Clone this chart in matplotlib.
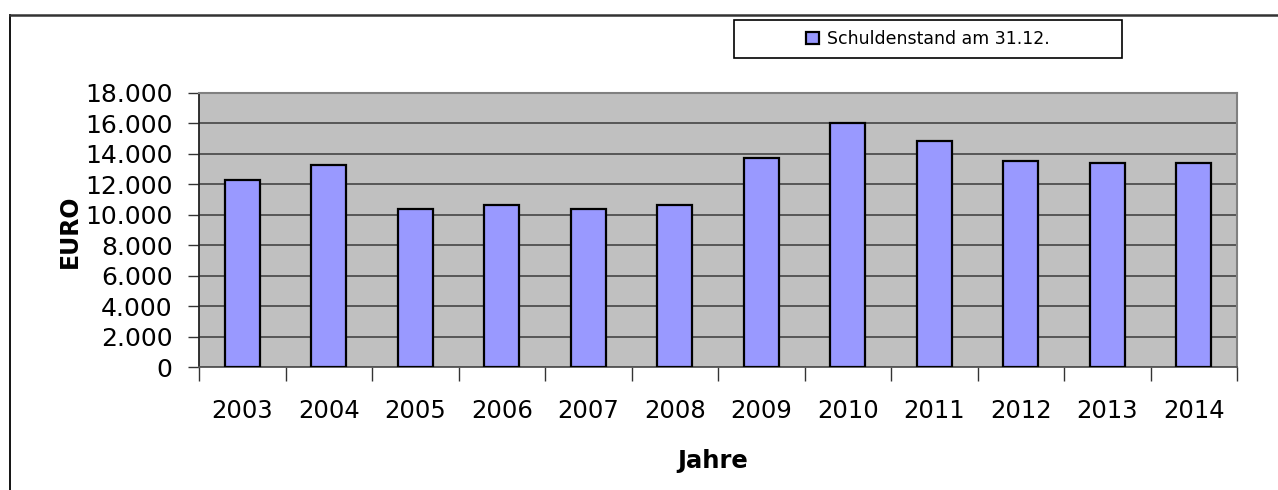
import matplotlib
matplotlib.use("Agg")
import matplotlib.pyplot as plt
from matplotlib.patches import Rectangle
from matplotlib.ticker import FuncFormatter, FixedLocator

# Daten: Schuldenstand am 31.12. in EURO
jahre = ["2003", "2004", "2005", "2006", "2007", "2008",
         "2009", "2010", "2011", "2012", "2013", "2014"]
schulden = [12300, 13250, 10400, 10650, 10400, 10650,
            13750, 16000, 14850, 13500, 13400, 13400]
legend_label = "Schuldenstand am 31.12."

W, H = 1278, 490
fig = plt.figure(figsize=(W / 100, H / 100), dpi=100)
fig.patch.set_facecolor("white")

# äußerer Rahmen (rechts und unten abgeschnitten)
fig.add_artist(plt.Line2D([10 / W, 10 / W], [0, 1 - 15 / H], color="black", lw=1.3))
fig.add_artist(plt.Line2D([10 / W, 1], [1 - 15 / H, 1 - 15 / H], color="#333333", lw=1.8))

# Diagrammfläche
left, right, top, bottom = 199, 1237, 93, 367
ax = fig.add_axes([left / W, 1 - bottom / H, (right - left) / W, (bottom - top) / H])
ax.set_facecolor("#C0C0C0")

x = range(len(jahre))
bars = ax.bar(x, schulden, width=0.4, color="#9999FF", edgecolor="black",
              linewidth=1.6, zorder=3, label=legend_label)

ax.set_xlim(-0.5, len(jahre) - 0.5)
ax.set_ylim(0, 18000)
ax.set_yticks(range(0, 18001, 2000))
ax.yaxis.set_major_formatter(FuncFormatter(lambda v, p: f"{int(v):,}".replace(",", ".")))
ax.yaxis.grid(True, color="#3a3a3a", linewidth=1.1, zorder=1)
ax.set_axisbelow(True)

# x-Achse: Striche zwischen den Kategorien, Beschriftung in der Mitte
ax.xaxis.set_major_locator(FixedLocator([i - 0.5 for i in range(len(jahre) + 1)]))
ax.xaxis.set_major_formatter(FuncFormatter(lambda v, p: ""))
ax.xaxis.set_minor_locator(FixedLocator(list(x)))
ax.set_xticklabels(jahre, minor=True)
ax.tick_params(axis="x", which="major", length=10, width=1, color="#333333", direction="out")
ax.tick_params(axis="x", which="minor", length=0, pad=23, labelsize=17.5)
ax.tick_params(axis="y", length=8, width=1, color="#333333", direction="out", pad=11, labelsize=18)

for s in ["top", "right"]:
    ax.spines[s].set_color("#808080")
    ax.spines[s].set_linewidth(1.5)
ax.spines["bottom"].set_color("#555555")
ax.spines["bottom"].set_linewidth(1.3)
ax.spines["left"].set_color("#222222")
ax.spines["left"].set_linewidth(1.3)

# Achsentitel
fig.text(70 / W, 1 - 231 / H, "EURO", rotation=90, ha="center", va="center",
         fontsize=17, fontweight="bold")
fig.text(713 / W, 1 - 461 / H, "Jahre", ha="center", va="center",
         fontsize=17.5, fontweight="bold")

# Legende mit eigenem Rahmen
lx0, ly0, lx1, ly1 = 734, 20, 1122, 58
fig.add_artist(Rectangle((lx0 / W, 1 - ly1 / H), (lx1 - lx0) / W, (ly1 - ly0) / H,
                         transform=fig.transFigure, facecolor="white",
                         edgecolor="black", linewidth=1.2))
fig.legend(handles=[bars], labels=[legend_label], loc="center",
           bbox_to_anchor=((lx0 + lx1) / 2 / W, 1 - (ly0 + ly1) / 2 / H),
           frameon=False, fontsize=12.5, handlelength=0.75, handleheight=0.75,
           handletextpad=0.5)

fig.savefig("out.png", dpi=100)
